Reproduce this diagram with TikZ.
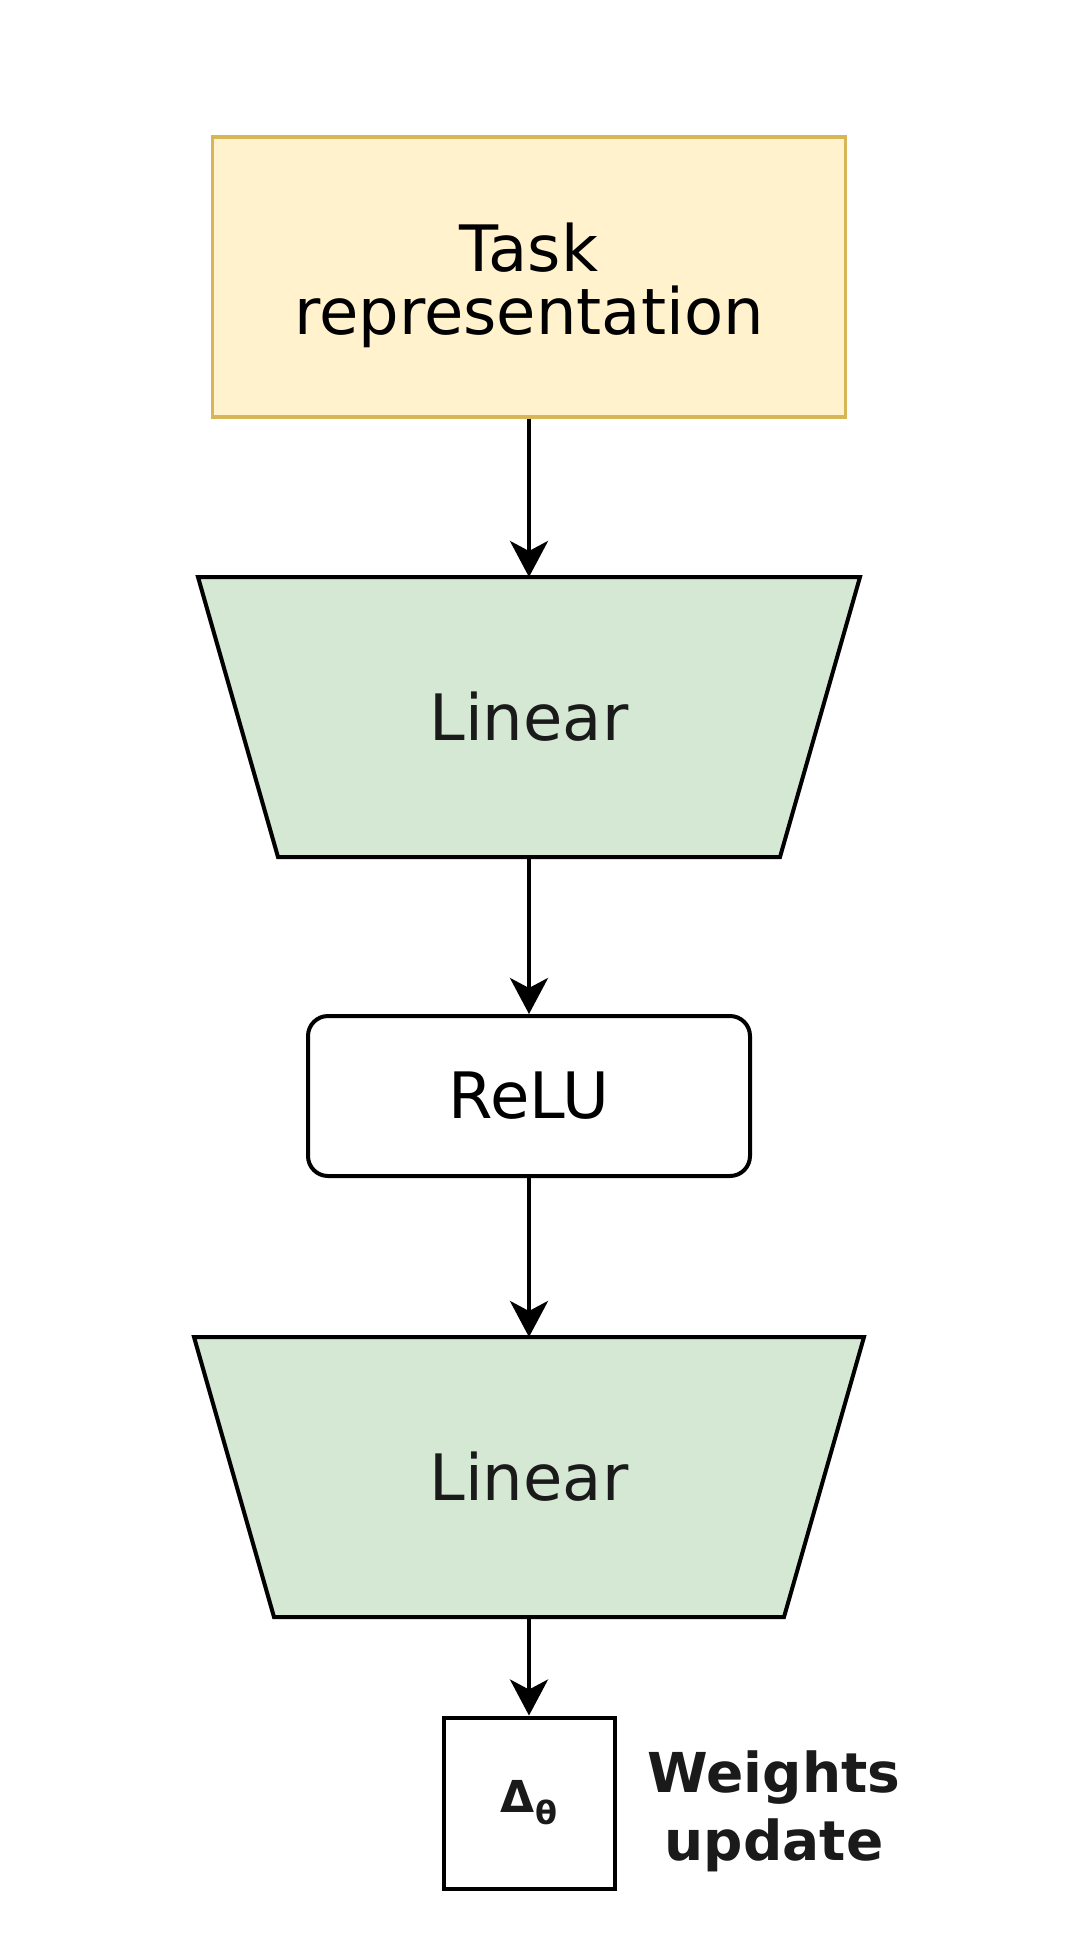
\documentclass[tikz,border=0pt]{standalone}
\usepackage{fontspec}
\setmainfont{DejaVu Sans}
\usetikzlibrary{arrows.meta,positioning,backgrounds}
\definecolor{taskfill}{HTML}{FFF2CC}
\definecolor{taskdraw}{HTML}{D6B656}
\definecolor{linfill}{HTML}{D5E8D4}
\definecolor{ink}{HTML}{1A1A1A}
\begin{document}
\begin{tikzpicture}[x=1pt, y=-1pt,
        T/.style={draw=taskdraw, fill=taskfill, line width=3.5pt, minimum width=633pt, minimum height=280pt, align=center, font={\fontsize{64}{63}\selectfont}},
        L/.style={line width=4pt, minimum width=658pt, minimum height=276pt, text=ink, font={\fontsize{64}{63}\selectfont}},
        LB/.style={draw, fill=linfill, line width=4pt, line join=miter},
        R/.style={draw, rounded corners=20pt, line width=4pt, minimum width=442pt, minimum height=160pt, font={\fontsize{64}{63}\selectfont}},
        D/.style={draw, line width=4pt, minimum size=171pt, text=ink, font={\bfseries\fontsize{44}{44}\selectfont}},
        A/.style={line width=4pt, -{Stealth[length=36pt, width=38pt, inset=10pt]}}
      ]
      \useasboundingbox (0,0) rectangle (1076,1943);
      \node [T] (task) at (529,277) {\rule{0pt}{65pt}Task\\representation};
      \node [L] (lin1) at (529,717) {Linear};
      \node [R] (relu) at (529,1096) {ReLU};
      \node [L, minimum width=666pt] (lin2) at (529,1477) {Linear};
      \node [D] (delta) at (529,1803) {Δ\raisebox{-12pt}{\fontsize{32}{32}\selectfont θ}};
      \node [align=center, text=ink, font={\bfseries\fontsize{55}{68}\selectfont}] (wu) at (774,1811) {Weights\\update};

      % trapezoids behind the two Linear nodes
      \begin{scope}[on background layer]
        \foreach \n in {lin1,lin2}
          \draw [LB] (\n.north west) -- (\n.north east) -- ([xshift=-80pt]\n.south east) -- ([xshift=80pt]\n.south west) -- cycle;
      \end{scope}

      \draw [A] (task) -- (lin1);
      \draw [A] (lin1) -- (relu);
      \draw [A] (relu) -- (lin2);
      \draw [A] (lin2) -- (delta);
    \end{tikzpicture}
\end{document}
